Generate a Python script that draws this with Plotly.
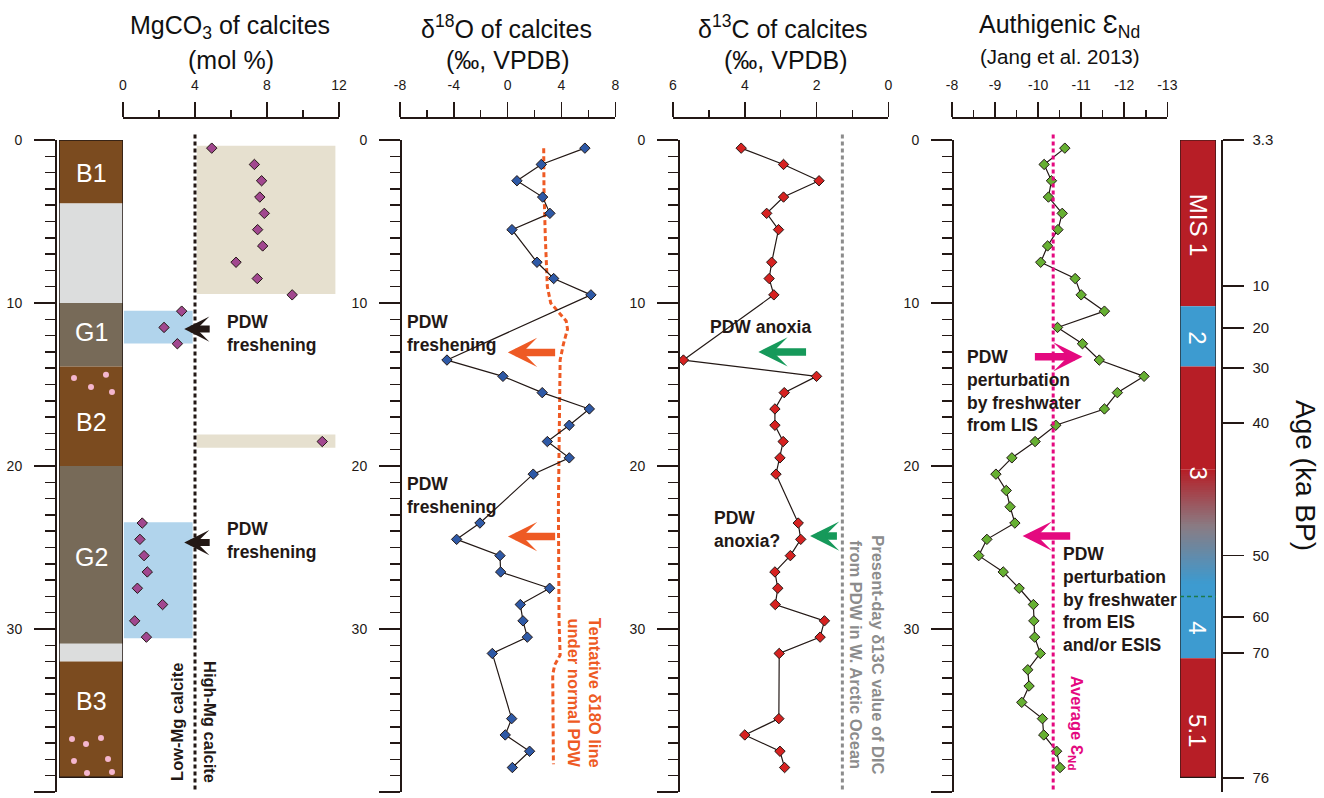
import numpy as np
import plotly.graph_objects as go

W, H = 1324, 798
FONT = "Liberation Sans, Arial, Helvetica, sans-serif"
INK = "#231815"

# ---------------- data ----------------
# MgCO3 of calcites (mol %)
mg_depth = [0.5, 1.5, 2.5, 3.5, 4.5, 5.5, 6.5, 7.5, 8.5, 9.5, 10.5, 11.5, 12.5, 18.5,
            23.5, 24.5, 25.5, 26.5, 27.5, 28.5, 29.5, 30.5]
mg_val = [4.93, 7.3, 7.7, 7.6, 7.85, 7.48, 7.76, 6.28, 7.46, 9.4, 3.26, 2.28, 3.02, 11.07,
          1.07, 0.94, 1.17, 1.35, 0.8, 2.2, 0.65, 1.3]

# isotope sample depths
iso_depth = [0.5, 1.5, 2.5, 3.5, 4.5, 5.5, 7.5, 8.5, 9.5, 13.5, 14.5, 15.5, 16.5, 17.5, 18.5,
             19.5, 20.5, 23.5, 24.5, 25.5, 26.5, 27.5, 28.5, 29.5, 30.5, 31.5, 35.5, 36.5,
             37.5, 38.5]
d18o = [5.74, 2.5, 0.69, 2.6, 3.14, 0.32, 2.18, 3.42, 6.19, -4.51, -0.35, 2.57, 6.07, 4.58,
        2.95, 4.58, 1.9, -2.06, -3.79, -0.57, -0.52, 3.12, 0.94, 1.14, 1.46, -1.14, 0.3,
        -0.18, 1.63, 0.35]
d13c = [4.1, 2.92, 1.93, 2.92, 3.39, 3.06, 3.25, 3.32, 3.19, 5.71, 2.0, 2.9, 3.16, 3.16,
        2.93, 3.02, 3.13, 2.51, 2.44, 2.73, 3.16, 3.08, 3.15, 1.78, 1.9, 3.04, 3.05, 4.0,
        3.02, 2.89]

# tentative d18O line under normal PDW
tent_depth = [0.5, 3.0, 6.0, 9.0, 10.0, 10.6, 11.1, 11.6, 12.5, 13.5, 17.0, 22.5, 29.5,
              31.6, 32.2, 32.8, 38.3]
tent_val = [2.68, 2.7, 2.8, 2.95, 3.2, 3.8, 4.35, 4.45, 4.15, 3.9, 3.85, 3.77, 3.82, 3.9,
            3.5, 3.35, 3.4]

# authigenic eNd (Jang et al. 2013)
nd_depth = [0.5, 1.5, 2.5, 3.5, 4.5, 5.5, 6.5, 7.5, 8.5, 9.5, 10.5, 11.5, 12.5, 13.5, 14.5,
            15.5, 16.5, 17.5, 18.5, 19.5, 20.5, 21.5, 22.5, 23.5, 24.5, 25.5, 26.5, 27.5,
            28.5, 29.5, 30.5, 31.5, 32.5, 33.5, 34.5, 35.5, 36.5, 37.5, 38.5]
nd_val = [-10.62, -10.14, -10.31, -10.24, -10.56, -10.46, -10.22, -10.06, -10.86, -11.0,
          -11.54, -10.45, -11.03, -11.42, -12.46, -11.84, -11.54, -10.41, -9.93, -9.39,
          -9.02, -9.26, -9.35, -9.46, -8.81, -8.62, -9.19, -9.56, -9.89, -9.9, -9.92,
          -10.05, -9.76, -9.79, -9.62, -10.1, -10.13, -10.43, -10.51]

# reference values
mg_boundary = 4.0
dic_present = 1.28
nd_average = -10.35

# MgCO3 shaded intervals
high_mg_x = [4.1, 11.8]
high_mg_top = [0.35, 18.06]
high_mg_bot = [9.45, 18.88]
low_mg_x = [0.05, 3.87]
low_mg_top = [10.47, 23.45]
low_mg_bot = [12.48, 30.57]

# lithology
litho_top = [0.0, 3.9, 10.0, 13.9, 20.0, 30.9, 32.0]
litho_bot = [3.9, 10.0, 13.9, 20.0, 30.9, 32.0, 39.1]
litho_kind = ["B", "L", "G", "B", "G", "L", "B"]
litho_names = ["B1", "G1", "B2", "G2", "B3"]
litho_name_depth = [2.0, 11.8, 17.3, 25.6, 34.4]
dot_x = [0.234, 0.734, 0.5, 0.828, 0.203, 0.422, 0.656, 0.234, 0.766, 0.4375, 0.828]
dot_depth = [14.6, 14.4, 15.15, 15.46, 36.75, 37.06, 36.69, 38.1, 37.98, 38.83, 38.77]

# marine isotope stages
mis_top = [0.0, 10.2, 13.9, 20.2, 27.2, 31.8]
mis_bot = [10.2, 13.9, 20.2, 27.2, 31.8, 39.1]
mis_kind = ["warm", "cold", "warm", "grad", "cold", "warm"]
mis_names = ["MIS 1", "2", "3", "4", "5.1"]
mis_name_depth = [5.2, 12.1, 20.4, 29.9, 36.2]
mis_34_boundary = 28.0

# age scale
age_depth = [0, 8.96, 11.53, 13.99, 17.36, 25.5, 29.26, 31.47, 39.14]
age_text = ["3.3", "10", "20", "30", "40", "50", "60", "70", "76"]

# tick labels
mg_ticks = [0, 4, 8, 12]
o_ticks = [-8, -4, 0, 4, 8]
c_ticks = [6, 4, 2, 0]
nd_ticks = [-8, -9, -10, -11, -12, -13]
depth_ticks = [0, 10, 20, 30, 40]

# ---------------- styling ----------------
C_MG = "#A1478F"
C_O = "#2E59A6"
C_C = "#D62221"
C_ND = "#66B032"
C_ORANGE = "#EE5A24"
C_GREEN = "#16995A"
C_PINK = "#E4097F"
C_GRAY = "#8C8C8C"
C_BEIGE = "#E6E0CF"
C_LBLUE = "#B1D4EC"
LITHO_COL = {"B": "#7B4B1F", "G": "#776A58", "L": "#DCDDDD"}
MIS_RED = (183, 30, 38)
MIS_BLUE = (61, 155, 208)


def px(x):
    return x / W


def py(y):
    return 1 - y / H


YDOM = [py(792), py(140)]

fig = go.Figure()

mk = dict(symbol="diamond", size=8, line=dict(color=INK, width=1))
fig.add_trace(go.Scatter(x=mg_val, y=mg_depth, xaxis="x", yaxis="y", mode="markers",
                         marker=dict(mk, color=C_MG), cliponaxis=False))
fig.add_trace(go.Scatter(x=tent_val, y=tent_depth, xaxis="x2", yaxis="y2", mode="lines",
                         line=dict(color=C_ORANGE, width=3, dash="5px,3px")))
fig.add_trace(go.Scatter(x=d18o, y=iso_depth, xaxis="x2", yaxis="y2", mode="lines+markers",
                         line=dict(color=INK, width=1.2), marker=dict(mk, color=C_O),
                         cliponaxis=False))
fig.add_trace(go.Scatter(x=d13c, y=iso_depth, xaxis="x3", yaxis="y3", mode="lines+markers",
                         line=dict(color=INK, width=1.2), marker=dict(mk, color=C_C),
                         cliponaxis=False))
fig.add_trace(go.Scatter(x=nd_val, y=nd_depth, xaxis="x4", yaxis="y4", mode="lines+markers",
                         line=dict(color=INK, width=1.2), marker=dict(mk, color=C_ND),
                         cliponaxis=False))
fig.add_trace(go.Scatter(x=dot_x, y=dot_depth, xaxis="x5", yaxis="y", mode="markers",
                         marker=dict(symbol="circle", size=6, color="#F4B6CE", line=dict(width=0)),
                         cliponaxis=False))
fig.add_trace(go.Scatter(x=[0.5], y=[0], xaxis="x6", yaxis="y", mode="markers",
                         marker=dict(opacity=0)))
fig.add_trace(go.Scatter(x=[-10], y=[0], xaxis="x4", yaxis="y5", mode="markers",
                         marker=dict(opacity=0)))

shapes = []
# MgCO3 shaded fields
for t, b in zip(high_mg_top, high_mg_bot):
    shapes.append(dict(type="rect", xref="x", yref="y", x0=high_mg_x[0], x1=high_mg_x[1],
                       y0=t, y1=b, fillcolor=C_BEIGE, line=dict(width=0), layer="below"))
for t, b in zip(low_mg_top, low_mg_bot):
    shapes.append(dict(type="rect", xref="x", yref="y", x0=low_mg_x[0], x1=low_mg_x[1],
                       y0=t, y1=b, fillcolor=C_LBLUE, line=dict(width=0), layer="below"))
# lithology column
for t, b, k in zip(litho_top, litho_bot, litho_kind):
    shapes.append(dict(type="rect", xref="x5", yref="y", x0=0, x1=1, y0=t, y1=b,
                       fillcolor=LITHO_COL[k], line=dict(width=0), layer="below"))
shapes.append(dict(type="rect", xref="x5", yref="y", x0=0, x1=1, y0=litho_top[0],
                   y1=litho_bot[-1], line=dict(color=INK, width=1.5)))
# MIS bar
for t, b, k in zip(mis_top, mis_bot, mis_kind):
    if k == "grad":
        n = 50
        edges = np.linspace(t, b, n + 1)
        mid = (138, 124, 132)
        for i in range(n):
            f = (i + 0.5) / n
            if f < 0.5:
                g = f / 0.5
                c = [MIS_RED[j] + (mid[j] - MIS_RED[j]) * g for j in range(3)]
            else:
                g = (f - 0.5) / 0.5
                c = [mid[j] + (MIS_BLUE[j] - mid[j]) * g for j in range(3)]
            shapes.append(dict(type="rect", xref="x6", yref="y", x0=0, x1=1,
                               y0=edges[i], y1=b,
                               fillcolor="rgb(%d,%d,%d)" % tuple(int(v) for v in c),
                               line=dict(width=0), layer="below"))
    else:
        col = MIS_RED if k == "warm" else MIS_BLUE
        shapes.append(dict(type="rect", xref="x6", yref="y", x0=0, x1=1, y0=t, y1=b,
                           fillcolor="rgb(%d,%d,%d)" % col, line=dict(width=0), layer="below"))
shapes.append(dict(type="rect", xref="x6", yref="y", x0=0, x1=1, y0=mis_top[0],
                   y1=mis_bot[-1], line=dict(color=INK, width=1.2)))
shapes.append(dict(type="line", xref="x6", yref="y", x0=0, x1=1.2, y0=mis_34_boundary,
                   y1=mis_34_boundary, line=dict(color="#1C7A4A", width=1.5, dash="4px,3px")))
# reference lines
for xr, val, col, dash in [("x", mg_boundary, INK, "4px,3px"),
                           ("x3", dic_present, C_GRAY, "4px,3px"),
                           ("x4", nd_average, C_PINK, "4px,3px")]:
    shapes.append(dict(type="line", xref=xr, yref="y domain", x0=val, x1=val, y0=0.004,
                       y1=1.009, line=dict(color=col, width=3, dash=dash)))

ann = []


def text(x, y, s, xref="paper", yref="paper", size=17.5, color=INK, bold=False,
         xanchor="center", yanchor="middle", angle=0, align="left"):
    if bold:
        s = "<b>" + s.replace("<br>", "</b><br><b>") + "</b>"
    ann.append(dict(x=x, y=y, xref=xref, yref=yref, text=s, showarrow=False,
                    font=dict(family=FONT, size=size, color=color), xanchor=xanchor,
                    yanchor=yanchor, textangle=angle, align=align))


# titles
text(px(230), py(27), "MgCO<sub>3</sub> of calcites", size=25, color="#111")
text(px(230.5), py(60), "(mol %)", size=25, color="#111")
text(px(506.5), py(27), "δ<sup>18</sup>O of calcites", size=25, color="#111")
text(px(508), py(60), "(‰, VPDB)", size=25, color="#111")
text(px(783), py(27), "δ<sup>13</sup>C of calcites", size=25, color="#111")
text(px(786), py(60), "(‰, VPDB)", size=25, color="#111")
text(px(1059.5), py(26), "Authigenic Ɛ<sub>Nd</sub>", size=25, color="#111")
text(px(1060), py(56), "(Jang et al. 2013)", size=20.5, color="#111")
text(px(1306), py(475), "Age (ka BP)", size=28, color="#111", angle=90)

# lithology and MIS labels
for nm, d in zip(litho_names, litho_name_depth):
    text(0.5, d, nm, xref="x5", yref="y", size=25, color="white")
for nm, d in zip(mis_names, mis_name_depth):
    text(0.5, d, nm, xref="x6", yref="y", size=24, color="white", angle=90)

# panel notes
text(5.67, 11.87, "PDW<br>freshening", "x", "y", bold=True, xanchor="left")
text(5.67, 24.57, "PDW<br>freshening", "x", "y", bold=True, xanchor="left")
text(3.0, 35.7, "Low-Mg calcite", "x", "y", size=16.5, bold=True, angle=-90)
text(4.83, 35.7, "High-Mg calcite", "x", "y", size=16.5, bold=True, angle=90)
text(-7.6, 11.87, "PDW<br>freshening", "x2", "y2", bold=True, xanchor="left")
text(-7.6, 21.8, "PDW<br>freshening", "x2", "y2", bold=True, xanchor="left")
text(5.74, 33.9, "Tentative δ18O line<br>under normal PDW", "x2", "y2", size=16.5,
     color=C_ORANGE, bold=True, angle=90, align="center")
text(3.55, 11.47, "PDW anoxia", "x3", "y3", bold=True)
text(4.92, 23.9, "PDW<br>anoxia?", "x3", "y3", bold=True, xanchor="left")
text(0.57, 31.6, "Present-day δ13C value of DIC<br>from PDW in W. Arctic Ocean", "x3", "y3",
     size=16.5, color=C_GRAY, bold=True, angle=90, align="center")
text(-8.3, 15.4, "PDW<br>perturbation<br>by freshwater<br>from LIS", "x4", "y4", bold=True,
     xanchor="left")
text(-10.52, 28.2, "PDW<br>perturbation<br>by freshwater<br>from EIS<br>and/or ESIS", "x4", "y4",
     bold=True, xanchor="left")
text(-10.9, 35.8, "Average Ɛ<sub>Nd</sub>", "x4", "y4", size=16.5, color=C_PINK, bold=True,
     angle=90)

# arrows (tip, tail, depth)
arrows = [("x", "y", 3.4, 4.9, 11.6, INK, 7, 0.6),
          ("x", "y", 3.4, 4.9, 24.7, INK, 7, 0.6),
          ("x2", "y2", 0.02, 3.64, 13.03, C_ORANGE, 7.5, 0.65),
          ("x2", "y2", 0.02, 3.64, 24.33, C_ORANGE, 7.5, 0.65),
          ("x3", "y3", 3.62, 2.25, 13.0, C_GREEN, 7.5, 0.65),
          ("x3", "y3", 2.18, 1.39, 24.3, C_GREEN, 7.5, 0.65),
          ("x4", "y4", -11.03, -9.89, 13.3, C_PINK, 7.5, 0.65),
          ("x4", "y4", -9.64, -10.78, 24.3, C_PINK, 7.5, 0.65)]
for xr, yr, tip, tail, d, col, wd, sz in arrows:
    ann.append(dict(x=tip, y=d, ax=tail, ay=d, xref=xr, yref=yr, axref=xr, ayref=yr,
                    text="", showarrow=True, arrowhead=3, arrowwidth=wd, arrowsize=sz,
                    arrowcolor=col, standoff=0))

tickfont = dict(family=FONT, size=14, color=INK)


def xaxis(domain, rng, ticks, minor_vals):
    return dict(domain=[px(domain[0]), px(domain[1])], range=rng, side="top", anchor="free",
                position=py(117), showline=True, linecolor=INK, linewidth=1.5,
                ticks="outside", ticklen=15, tickwidth=1.5, tickcolor=INK,
                tickmode="array", tickvals=ticks, ticktext=[str(t) for t in ticks],
                tickfont=tickfont, showgrid=False, zeroline=False, ticklabelstandoff=6,
                automargin=False,
                minor=dict(tickmode="array", tickvals=minor_vals, ticks="outside", ticklen=7,
                           tickwidth=1.5, tickcolor=INK, showgrid=False))


minor_depth = [v for v in range(1, 40) if v % 10]


def yaxis(pos):
    return dict(domain=YDOM, range=[40, 0], anchor="free", position=px(pos), showline=True,
                linecolor=INK, linewidth=1.5, ticks="outside", ticklen=21, tickwidth=1.5,
                tickcolor=INK, tickmode="array", tickvals=depth_ticks,
                ticktext=[str(t) for t in depth_ticks], tickfont=tickfont, showgrid=False,
                zeroline=False, ticklabelstandoff=9, automargin=False,
                minor=dict(tickmode="array", tickvals=minor_depth, ticks="outside",
                           ticklen=10, tickwidth=1.5, tickcolor=INK, showgrid=False))


fig.update_layout(
    width=W, height=H, margin=dict(l=0, r=0, t=0, b=0, pad=0, autoexpand=False),
    showlegend=False,
    paper_bgcolor="white", plot_bgcolor="rgba(0,0,0,0)", hovermode=False,
    font=dict(family=FONT, color=INK),
    xaxis=xaxis((123, 339), [0, 12], mg_ticks, [2, 6, 10]),
    xaxis2=xaxis((400, 615.3), [-8, 8], o_ticks, [-6, -2, 2, 6]),
    xaxis3=xaxis((673, 888.3), [6, 0], c_ticks, [5, 3, 1]),
    xaxis4=xaxis((952, 1167.3), [-8, -13], nd_ticks, [-8.5, -9.5, -10.5, -11.5, -12.5]),
    xaxis5=dict(domain=[px(59), px(123)], range=[0, 1], visible=False, anchor="y"),
    xaxis6=dict(domain=[px(1180), px(1216)], range=[0, 1], visible=False, anchor="y"),
    yaxis=yaxis(55), yaxis2=yaxis(400), yaxis3=yaxis(678), yaxis4=yaxis(952),
    yaxis5=dict(domain=YDOM, range=[40, 0], anchor="free", overlaying="y4", side="right",
                position=px(1221), showline=True, linecolor=INK, linewidth=1.5,
                ticks="outside", ticklen=21, tickwidth=1.5, tickcolor=INK, tickmode="array",
                tickvals=age_depth, ticktext=age_text, tickfont=dict(tickfont, size=15),
                showgrid=False, zeroline=False, ticklabelstandoff=6, automargin=False),
    shapes=shapes, annotations=ann,
)

fig.write_html("out.html", config={"displayModeBar": False, "staticPlot": True},
               post_script="document.body.style.margin='0px';document.body.style.overflow='hidden';")
